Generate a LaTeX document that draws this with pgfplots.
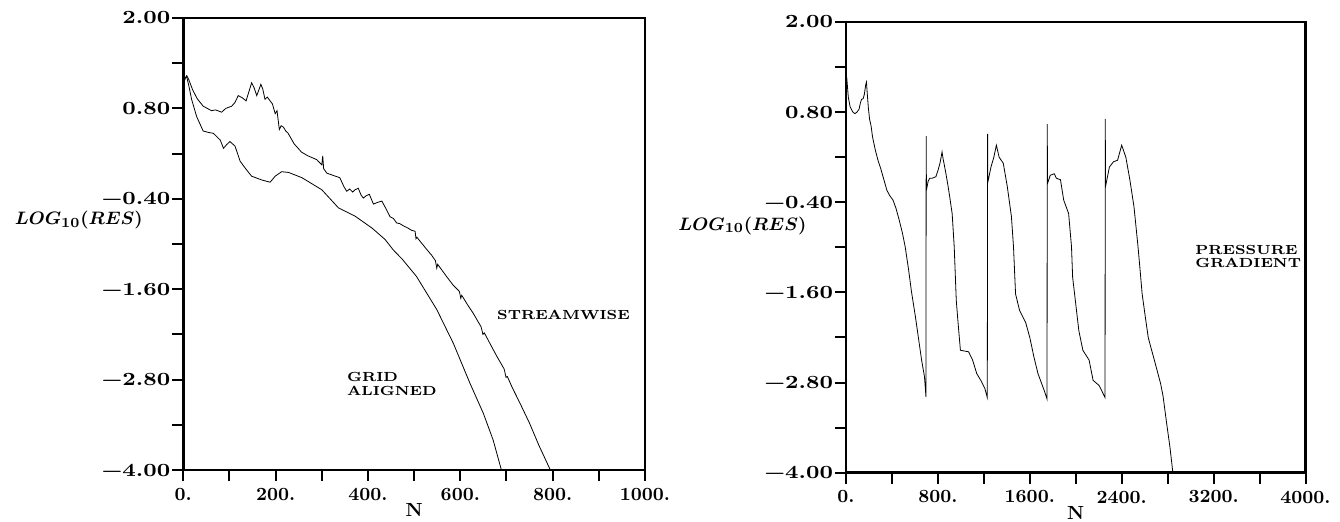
\documentclass[border=0pt]{standalone}
\usepackage{fontspec}
\usepackage{graphicx}
\usepackage{pgfplots}
\pgfplotsset{compat=1.18}
\newcommand\tl{\bfseries\fontsize{9.3}{10}\selectfont}
\newcommand\yw[1]{\scalebox{1.22}[1]{#1}}
\newcommand\lbl{\bfseries\fontsize{6.6}{6.7}\selectfont}
\newcommand\lw[1]{\scalebox{1.12}[1]{#1}}
\pgfplotsset{resstyle/.style={
  scale only axis,
  axis line style={line width=1.3pt},
  tick pos=left,
  tick align=outside,
  major tick length=5.5pt, minor tick length=5.5pt,
  tick style={black, line width=1pt},
  ymin=-4, ymax=2,
  ytick={-4,-2.8,-1.6,-0.4,0.8,2},
  minor ytick={-3.4,-2.2,-1.0,0.2,1.4},
  yticklabels={\yw{−4.00},\yw{−2.80},\yw{−1.60},\yw{−0.40},\yw{0.80},\yw{2.00}},
  tick label style={font=\tl},
  yticklabel style={xshift=2.5pt},
  xlabel={N},
  ylabel={$LOG_{10}(RES)$},
  every axis x label/.style={at={(axis description cs:0.5,0)}, anchor=center, yshift=-20pt, font=\bfseries\fontsize{9.5}{10}\selectfont},
  cycle list={{black, no markers, line width=1.4pt, line join=round}},
}}
\begin{document}
\begin{tikzpicture}
\path[use as bounding box] (0,0) rectangle (670pt,260.5pt);
% ---------------- left panel ----------------
\begin{axis}[resstyle,
  at={(91.65pt,25.5pt)}, anchor=south west,
  width=230.85pt, height=226pt,
  xmin=0, xmax=1000,
  xtick={0,200,400,600,800,1000},
  minor xtick={100,300,500,700,900},
  xticklabels={0.,200.,400.,600.,800.,1000.},
  every axis y label/.style={at={(axis description cs:-0.087,0.552)}, anchor=east, inner sep=0pt, font=\boldmath\fontsize{9.5}{12}\selectfont},
]
% streamwise
\addplot coordinates {
(0,1.12) (4,1.20) (8,1.23) (12,1.18) (20,1.05) (30,0.93) (43,0.83) (55,0.79)
(61,0.77) (70,0.78) (83,0.75) (92,0.80) (105,0.83) (112,0.88) (119,0.97)
(128,0.94) (136,0.90) (142,1.02) (148,1.14) (153,1.08) (159,0.97) (164,1.05)
(168,1.12) (172,1.06) (177,0.92) (182,0.95) (188,0.90) (193,0.86) (199,0.73)
(203,0.77) (208,0.52) (212,0.57) (217,0.55) (222,0.50) (227,0.47) (240,0.33)
(256,0.22) (270,0.17) (289,0.12) (300,0.05) (302,0.17) (304,0.00) (311,-0.06)
(325,-0.09) (339,-0.12) (348,-0.24) (354,-0.30) (360,-0.27) (367,-0.31)
(372,-0.28) (379,-0.26) (385,-0.35) (390,-0.39) (396,-0.36) (403,-0.34)
(409,-0.43) (412,-0.47) (420,-0.45) (430,-0.43) (438,-0.52) (448,-0.64)
(455,-0.66) (462,-0.72) (469,-0.73) (477,-0.76) (484,-0.78) (495,-0.82)
(502,-0.83) (504,-0.93) (506,-0.91) (515,-0.98) (527,-1.07) (538,-1.15)
(546,-1.22) (549,-1.32) (551,-1.27) (570,-1.43) (585,-1.55) (598,-1.63)
(601,-1.72) (603,-1.68) (615,-1.80) (628,-1.92) (645,-2.10) (649,-2.20)
(652,-2.18) (665,-2.33) (679,-2.49) (695,-2.66) (699,-2.77) (702,-2.76)
(712,-2.90) (729,-3.11) (750,-3.38) (770,-3.67) (795,-4.0)
};
% grid aligned
\addplot coordinates {
(0,1.12) (4,1.20) (7,1.23) (12,1.10) (18,0.92) (29,0.69) (43,0.50) (55,0.48)
(65,0.47) (80,0.38) (87,0.27) (94,0.32) (101,0.36) (112,0.30) (123,0.10)
(135,0.00) (148,-0.10) (170,-0.15) (188,-0.18) (199,-0.10) (213,-0.04)
(228,-0.05) (257,-0.12) (300,-0.28) (336,-0.52) (372,-0.63) (409,-0.79)
(437,-0.94) (455,-1.08) (474,-1.20) (505,-1.43) (549,-1.87) (585,-2.32)
(621,-2.85) (650,-3.25) (671,-3.60) (689,-4.0)
};
\node[anchor=west, inner sep=0pt, font=\lbl] at (axis cs:679,-1.94) {\lw{STREAMWISE}};
\node[anchor=west, inner sep=0pt, align=left, font=\lbl] at (axis cs:354,-2.86) {\lw{GRID}\\\lw{ALIGNED}};
\end{axis}
% ---------------- right panel ----------------
\begin{axis}[resstyle,
  at={(423pt,24.15pt)}, anchor=south west,
  width=229.75pt, height=225.35pt,
  xmin=0, xmax=4000,
  xtick={0,800,1600,2400,3200,4000},
  minor xtick={400,1200,2000,2800,3600},
  xticklabels={0.,800.,1600.,2400.,3200.,4000.},
  every axis y label/.style={at={(axis description cs:-0.0855,0.548)}, anchor=east, inner sep=0pt, font=\boldmath\fontsize{9.5}{12}\selectfont},
]
\addplot coordinates {
(0,1.32) (7,1.25) (20,1.00) (36,0.87) (60,0.80) (78,0.78) (95,0.80) (114,0.84)
(125,0.92) (135,0.97) (150,0.98) (160,1.04) (171,1.16) (178,1.20) (185,1.05)
(195,0.85) (206,0.70) (218,0.62) (231,0.47) (256,0.29) (280,0.15) (302,0.05)
(330,-0.10) (356,-0.24) (380,-0.31) (409,-0.37) (435,-0.48) (462,-0.63)
(490,-0.80) (516,-1.00) (545,-1.30) (569,-1.58) (605,-1.93) (630,-2.20)
(658,-2.50) (683,-2.72) (696,-2.99)
(698,0.48) (700,-0.24)
(715,-0.12) (729,-0.08) (750,-0.08) (782,-0.06) (800,0.02) (818,0.12)
(828,0.20) (836,0.27) (845,0.18) (853,0.12) (870,-0.02) (889,-0.19)
(905,-0.35) (924,-0.55) (942,-0.99) (960,-1.71) (978,-2.05) (996,-2.37)
(1030,-2.38) (1067,-2.39) (1102,-2.50) (1138,-2.68) (1173,-2.77)
(1209,-2.88) (1230,-3.00)
(1233,0.51) (1235,-0.13)
(1262,0.07) (1287,0.20) (1309,0.36) (1333,0.20) (1369,0.12) (1404,-0.19)
(1440,-0.59) (1458,-0.99) (1476,-1.62) (1511,-1.84) (1564,-2.00)
(1600,-2.20) (1636,-2.46) (1671,-2.68) (1724,-2.90) (1750,-3.02)
(1752,0.64) (1754,-0.15)
(1778,-0.04) (1813,-0.02) (1831,-0.08) (1867,-0.10) (1895,-0.37)
(1938,-0.55) (1963,-0.99) (1973,-1.40) (2027,-2.11) (2062,-2.37)
(2116,-2.50) (2151,-2.77) (2204,-2.84) (2255,-3.00)
(2257,0.71) (2259,-0.19)
(2293,0.07) (2329,0.14) (2364,0.16) (2400,0.36) (2436,0.20) (2471,-0.10)
(2507,-0.46) (2542,-0.99) (2560,-1.30) (2578,-1.62) (2605,-1.92)
(2631,-2.20) (2659,-2.36) (2684,-2.50) (2738,-2.81) (2760,-2.98)
(2791,-3.34) (2820,-3.66) (2844,-3.98)
};
\node[anchor=west, inner sep=0pt, align=left, font=\lbl] at (axis cs:3038,-1.12) {\lw{PRESSURE}\\\lw{GRADIENT}};
\end{axis}
\end{tikzpicture}
\end{document}
